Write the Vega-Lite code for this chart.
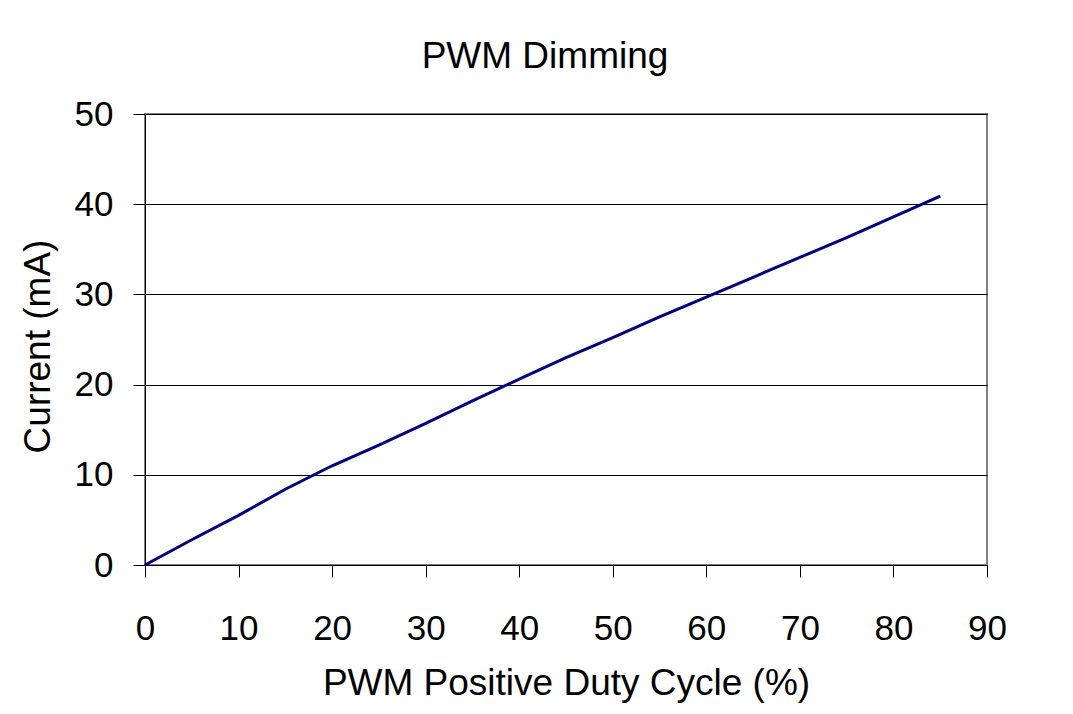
{
  "$schema": "https://vega.github.io/schema/vega-lite/v6.json",
  "width": 842,
  "height": 451,
  "autosize": {"type": "none"},
  "padding": {"left": 145, "top": 114, "right": 86, "bottom": 149},
  "background": "white",
  "title": {
    "text": "PWM Dimming",
    "frame": "group",
    "anchor": "middle",
    "dx": -21,
    "dy": 54,
    "baseline": "alphabetic",
    "offset": 46,
    "font": "Liberation Sans",
    "fontSize": 37,
    "fontWeight": "normal",
    "color": "#000000"
  },
  "data": {
    "values": [
      {"duty": 0, "current": 0},
      {"duty": 5, "current": 2.8},
      {"duty": 10, "current": 5.5},
      {"duty": 15, "current": 8.4},
      {"duty": 20, "current": 11.0},
      {"duty": 25, "current": 13.3},
      {"duty": 30, "current": 15.7},
      {"duty": 35, "current": 18.2},
      {"duty": 40, "current": 20.6},
      {"duty": 45, "current": 23.0},
      {"duty": 50, "current": 25.2},
      {"duty": 55, "current": 27.5},
      {"duty": 60, "current": 29.7},
      {"duty": 65, "current": 31.9},
      {"duty": 70, "current": 34.1},
      {"duty": 75, "current": 36.3},
      {"duty": 80, "current": 38.6},
      {"duty": 85, "current": 40.9}
    ]
  },
  "mark": {"type": "line", "color": "#000080", "strokeWidth": 3},
  "encoding": {
    "x": {
      "field": "duty",
      "type": "quantitative",
      "scale": {"domain": [0, 90], "nice": false},
      "axis": {
        "title": "PWM Positive Duty Cycle (%)",
        "values": [0, 10, 20, 30, 40, 50, 60, 70, 80, 90],
        "grid": false,
        "domainColor": "#000000",
        "tickColor": "#000000",
        "tickSize": 12,
        "labelPadding": 34,
        "labelFontSize": 35,
        "labelFont": "Liberation Sans",
        "labelColor": "#000000",
        "labelFlush": false,
        "labelOverlap": false,
        "titleFont": "Liberation Sans",
        "titleFontSize": 37,
        "titleFontWeight": "normal",
        "titleColor": "#000000",
        "titleBaseline": "alphabetic",
        "titleY": 129
      }
    },
    "y": {
      "field": "current",
      "type": "quantitative",
      "scale": {"domain": [0, 50], "nice": false},
      "axis": {
        "title": "Current (mA)",
        "values": [0, 10, 20, 30, 40, 50],
        "grid": true,
        "gridColor": "#000000",
        "gridOpacity": 1,
        "gridWidth": 1,
        "domainColor": "#000000",
        "tickColor": "#000000",
        "tickSize": 12,
        "labelPadding": 20,
        "labelFontSize": 35,
        "labelFont": "Liberation Sans",
        "labelColor": "#000000",
        "labelFlush": false,
        "labelOverlap": false,
        "titleFont": "Liberation Sans",
        "titleFontSize": 37,
        "titleFontWeight": "normal",
        "titleColor": "#000000",
        "titleBaseline": "alphabetic",
        "titleAngle": -90,
        "titleX": -96,
        "titleY": 232
      }
    }
  },
  "config": {
    "view": {"stroke": "#808080", "strokeWidth": 2}
  }
}
